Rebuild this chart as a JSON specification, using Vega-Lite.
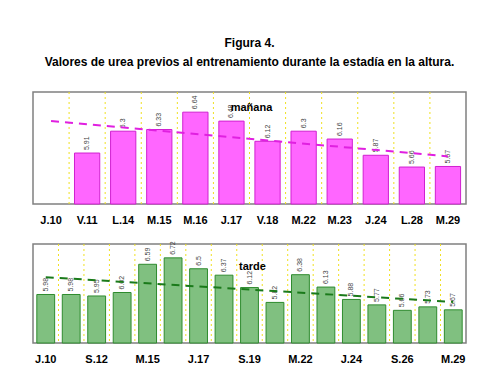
{
  "$schema": "https://vega.github.io/schema/vega-lite/v6.json",
  "padding": {"left": 32, "top": 36, "right": 35, "bottom": 5},
  "background": "white",
  "title": {
    "text": ["Figura 4.", "Valores de urea previos al entrenamiento durante la estadía en la altura."],
    "font": "Liberation Sans",
    "fontSize": 12,
    "fontWeight": "bold",
    "lineHeight": 19,
    "color": "black",
    "anchor": "middle",
    "offset": 22
  },
  "datasets": {
    "manana": [
      {"dia": "J.10", "urea": null},
      {"dia": "V.11", "urea": 5.91},
      {"dia": "L.14", "urea": 6.3},
      {"dia": "M.15", "urea": 6.33},
      {"dia": "M.16", "urea": 6.64},
      {"dia": "J.17", "urea": 6.48},
      {"dia": "V.18", "urea": 6.12},
      {"dia": "M.22", "urea": 6.3},
      {"dia": "M.23", "urea": 6.16},
      {"dia": "J.24", "urea": 5.87},
      {"dia": "L.28", "urea": 5.66},
      {"dia": "M.29", "urea": 5.67}
    ],
    "tarde": [
      {"dia": "J.10", "urea": 5.98},
      {"dia": "V.11", "urea": 5.98},
      {"dia": "S.12", "urea": 5.95},
      {"dia": "L.14", "urea": 6.02},
      {"dia": "M.15", "urea": 6.59},
      {"dia": "M.16", "urea": 6.72},
      {"dia": "J.17", "urea": 6.5},
      {"dia": "V.18", "urea": 6.37},
      {"dia": "S.19", "urea": 6.12},
      {"dia": "L.21", "urea": 5.82},
      {"dia": "M.22", "urea": 6.38},
      {"dia": "M.23", "urea": 6.13},
      {"dia": "J.24", "urea": 5.88},
      {"dia": "V.25", "urea": 5.77},
      {"dia": "S.26", "urea": 5.66},
      {"dia": "L.28", "urea": 5.73},
      {"dia": "M.29", "urea": 5.67}
    ],
    "tendManana": [
      {"dia": "J.10", "urea": 6.48},
      {"dia": "M.29", "urea": 5.85}
    ],
    "tendTarde": [
      {"dia": "J.10", "urea": 6.33},
      {"dia": "M.29", "urea": 5.83}
    ],
    "rotManana": [{"dia": "V.18", "urea": 6.71, "txt": "mañana"}],
    "rotTarde": [{"dia": "S.19", "urea": 6.54, "txt": "tarde"}]
  },
  "config": {
    "view": {"stroke": "#808080", "strokeWidth": 1.5},
    "axisX": {
      "labelFont": "Liberation Sans",
      "labelFontSize": 11,
      "labelFontWeight": "bold",
      "labelColor": "black",
      "labelAngle": 0,
      "ticks": false,
      "domain": false,
      "grid": false,
      "title": null,
      "labelPadding": 10
    }
  },
  "vconcat": [
    {
      "width": 433,
      "height": 112,
      "encoding": {
        "x": {"field": "dia", "type": "nominal", "sort": null,
              "scale": {"domain": ["J.10","V.11","L.14","M.15","M.16","J.17","V.18","M.22","M.23","J.24","L.28","M.29"], "paddingInner": 0, "paddingOuter": 0},
              "axis": {}},
        "y": {"field": "urea", "type": "quantitative", "scale": {"domain": [5, 7], "nice": false, "zero": false}, "axis": null}
      },
      "layer": [
        {
          "data": {"name": "manana"},
          "transform": [{"filter": "datum.dia != 'J.10'"}],
          "mark": {"type": "rule", "color": "#F0E020", "strokeDash": [2, 3], "strokeWidth": 1},
          "encoding": {"x": {"field": "dia", "type": "nominal", "bandPosition": 0}, "y": null}
        },
        {
          "data": {"name": "manana"},
          "mark": {"type": "bar", "width": {"band": 0.7}, "fill": "#FF66FF", "stroke": "#D020D0", "strokeWidth": 1},
          "encoding": {"y2": {"datum": 5}}
        },
        {
          "data": {"name": "manana"},
          "mark": {"type": "text", "angle": 270, "align": "left", "baseline": "middle", "dx": 3, "font": "Liberation Sans", "fontSize": 7, "fill": "#444444"},
          "encoding": {"text": {"field": "urea", "type": "quantitative"}}
        },
        {
          "data": {"name": "tendManana"},
          "mark": {"type": "line", "color": "#E020E0", "strokeWidth": 2, "strokeDash": [8, 6]}
        },
        {
          "data": {"name": "rotManana"},
          "mark": {"type": "text", "font": "Liberation Sans", "fontSize": 11, "fontWeight": "bold", "fill": "black", "align": "center", "baseline": "middle", "dx": 2},
          "encoding": {"x": {"field": "dia", "type": "nominal", "bandPosition": 0}, "text": {"field": "txt"}}
        }
      ]
    },
    {
      "width": 433,
      "height": 99,
      "encoding": {
        "x": {"field": "dia", "type": "nominal", "sort": null,
              "scale": {"domain": ["J.10","V.11","S.12","L.14","M.15","M.16","J.17","V.18","S.19","L.21","M.22","M.23","J.24","V.25","S.26","L.28","M.29"], "paddingInner": 0, "paddingOuter": 0},
              "axis": {"values": ["J.10","S.12","M.15","J.17","S.19","M.22","J.24","S.26","M.29"]}},
        "y": {"field": "urea", "type": "quantitative", "scale": {"domain": [5, 7], "nice": false, "zero": false}, "axis": null}
      },
      "layer": [
        {
          "data": {"name": "tarde"},
          "transform": [{"filter": "datum.dia != 'J.10'"}],
          "mark": {"type": "rule", "color": "#F0E020", "strokeDash": [2, 3], "strokeWidth": 1},
          "encoding": {"x": {"field": "dia", "type": "nominal", "bandPosition": 0}, "y": null}
        },
        {
          "data": {"name": "tarde"},
          "mark": {"type": "bar", "width": {"band": 0.7}, "fill": "#80C080", "stroke": "#2E8B2E", "strokeWidth": 1},
          "encoding": {"y2": {"datum": 5}}
        },
        {
          "data": {"name": "tarde"},
          "mark": {"type": "text", "angle": 270, "align": "left", "baseline": "middle", "dx": 3, "font": "Liberation Sans", "fontSize": 7, "fill": "#444444"},
          "encoding": {"text": {"field": "urea", "type": "quantitative"}}
        },
        {
          "data": {"name": "tendTarde"},
          "mark": {"type": "line", "color": "#1A7A1A", "strokeWidth": 2, "strokeDash": [8, 6]}
        },
        {
          "data": {"name": "rotTarde"},
          "mark": {"type": "text", "font": "Liberation Sans", "fontSize": 11, "fontWeight": "bold", "fill": "black", "align": "center", "baseline": "middle", "dx": 3},
          "encoding": {"text": {"field": "txt"}}
        }
      ]
    }
  ],
  "spacing": 14
}
